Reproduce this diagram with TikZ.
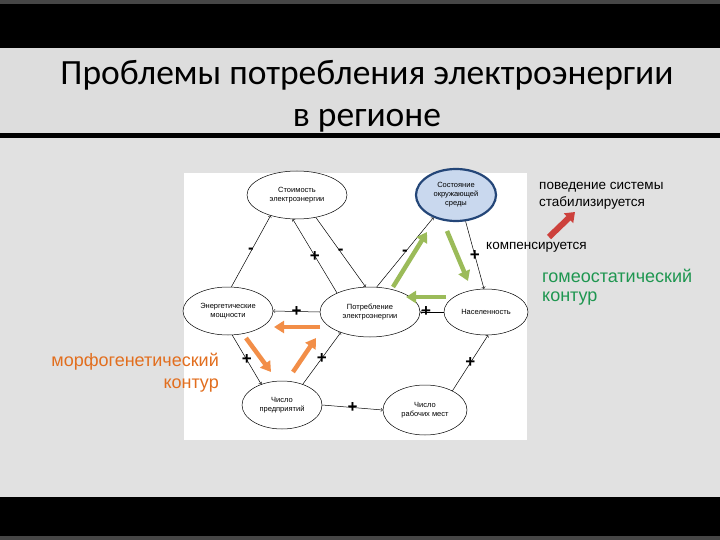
\documentclass[tikz,border=0pt]{standalone}
\usepackage{fontspec}
\setmainfont{Liberation Sans}
\newfontfamily\titlefont{Carlito}
\usepackage{xcolor}
\usepackage{tikz}
\usetikzlibrary{shapes.geometric,arrows,arrows.meta,positioning}
\definecolor{bargray}{RGB}{70,70,70}
\definecolor{slidegray}{RGB}{221,221,221}
\definecolor{lowgray}{RGB}{225,225,225}
\definecolor{envfill}{RGB}{201,216,238}
\definecolor{envdraw}{RGB}{36,70,120}
\definecolor{homeocolor}{RGB}{155,187,89}
\definecolor{homeotext}{RGB}{30,150,80}
\definecolor{morphocolor}{RGB}{242,142,72}
\definecolor{morphotext}{RGB}{226,110,30}
\definecolor{stablecolor}{RGB}{205,65,60}

\begin{document}
\begin{tikzpicture}[
    x=1pt, y=-1pt,
    factor/.style={ellipse, draw=black, line width=0.5pt, fill=white, inner sep=0pt, align=center, font=\fontsize{7.5}{9}\selectfont},
    env/.style={factor, draw=envdraw, line width=2.2pt, fill=envfill},
    link/.style={->, >=to, line width=0.5pt},
    sign/.style={font=\fontsize{17}{17}\selectfont\bfseries, inner sep=0pt},
    homeo/.style={-{Triangle[length=10pt,width=12pt]}, line width=4.5pt, draw=homeocolor},
    morpho/.style={-{Triangle[length=10pt,width=12pt]}, line width=4.5pt, draw=morphocolor},
    note/.style={inner sep=0pt, align=left, font=\fontsize{13.5}{17}\selectfont}
]
\useasboundingbox (0,0) rectangle (720,540);

% Slide background
\fill[bargray] (0,0) rectangle (720,4);
\fill[black] (0,4) rectangle (720,48);
\fill[slidegray] (0,48) rectangle (720,133);
\fill[black] (0,133) rectangle (720,138);
\fill[lowgray] (0,138) rectangle (720,497);
\fill[black] (0,497) rectangle (720,536);
\fill[bargray] (0,536) rectangle (720,540);
\fill[white] (184,173) rectangle (527,440);

% Title
\node[align=center, font=\titlefont\fontsize{35.5}{42}\selectfont] (title) at (367,96)
    {Проблемы потребления электроэнергии\\в регионе};

% Factors
\node[factor, minimum width=100, minimum height=48] (cost) at (297,195) {Стоимость\\электроэнергии};
\node[env, minimum width=80, minimum height=52] (env) at (456,195) {Состояние\\окружающей\\среды};
\node[factor, minimum width=90, minimum height=48] (power) at (228,311) {Энергетические\\мощности};
\node[factor, minimum width=100, minimum height=50] (usage) at (370,312) {Потребление\\электроэнергии};
\node[factor, minimum width=84, minimum height=46] (people) at (486,312) {Населенность};
\node[factor, minimum width=80, minimum height=48] (firms) at (282,405) {Число\\предприятий};
\node[factor, minimum width=84, minimum height=50] (jobs) at (425,410) {Число\\рабочих мест};

% Links
\draw[link] (power.82) -- node[sign]{-} (cost.218);
\draw[link] (usage.150) -- node[sign]{+} (cost.260);
\draw[link] (cost.310) -- node[sign]{-} (usage.100);
\draw[link] (usage.75) -- node[sign]{-} (env.225);
\draw[link] (env.290) -- node[sign]{+} (people.95);
\draw[link] (usage.180) -- node[sign]{+} (power.0);
\draw[link] (people.180) -- node[sign, pos=.75]{+} (usage.0);
\draw[link] (power.280) -- node[sign]{+} (firms.135);
\draw[link] (firms.45) -- node[sign]{+} (usage.215);
\draw[link] (firms.0) -- node[sign]{+} (jobs.180);
\draw[link] (jobs.35) -- node[sign]{+} (people.275);

% Homeostatic loop
\coordinate (g1) at (393,287);
\coordinate (g2) at (427,232);
\coordinate (g3) at (447,231);
\coordinate (g4) at (468,281);
\coordinate (g5) at (446,297);
\coordinate (g6) at (406,297);
\draw[homeo] (g1) -- (g2);
\draw[homeo] (g3) -- (g4);
\draw[homeo] (g5) -- (g6);

% Morphogenetic loop
\coordinate (o1) at (320,327);
\coordinate (o2) at (274,327);
\coordinate (o3) at (246,338);
\coordinate (o4) at (271,372);
\coordinate (o5) at (293,372);
\coordinate (o6) at (316,338);
\draw[morpho] (o1) -- (o2);
\draw[morpho] (o3) -- (o4);
\draw[morpho] (o5) -- (o6);

% Notes
\node[note, anchor=west] (stable) at (539,196) {поведение системы\\стабилизируется};
\coordinate (r1) at (549,237);
\coordinate (r2) at (575,212);
\draw[-{Triangle[length=9pt,width=13pt]}, line width=6pt, draw=stablecolor] (r1) -- (r2);
\node[note, anchor=west] (comp) at (486,247) {компенсируется};
\node[note, anchor=west, text=homeotext, font=\fontsize{18}{19}\selectfont] (homeolabel) at (542,287)
    {гомеостатический\\контур};
\node[note, anchor=east, align=right, text=morphotext, font=\fontsize{18}{22}\selectfont] (morpholabel) at (219,373)
    {морфогенетический\\контур};

\end{tikzpicture}
\end{document}
